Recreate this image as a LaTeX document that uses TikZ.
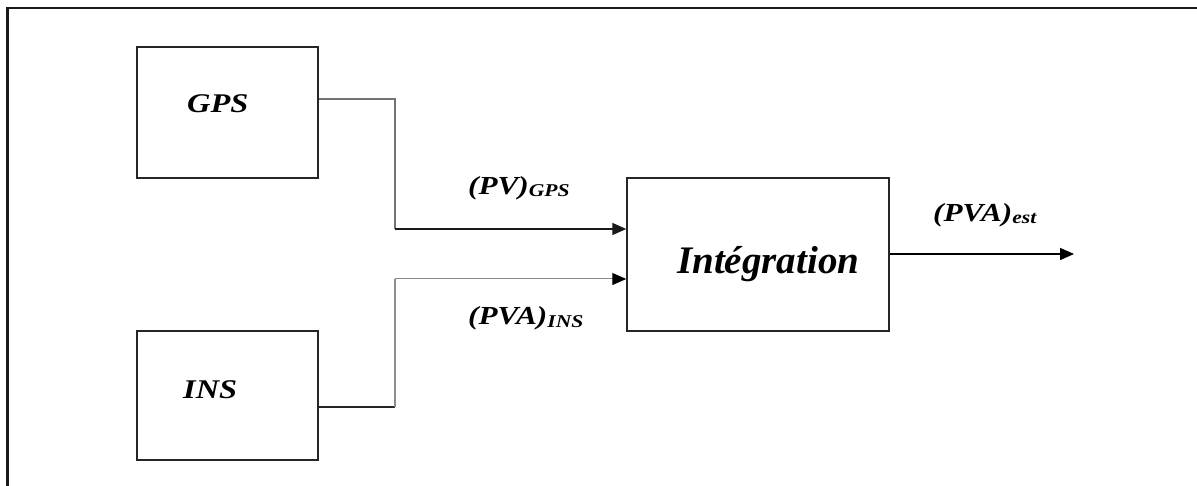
\documentclass[tikz,border=0pt]{standalone}
\usepackage{fontspec}
\setmainfont{Liberation Serif}
\newfontfamily\tbs[FakeStretch=1.2]{Liberation Serif}
\newfontfamily\tbn{Liberation Serif}
\usetikzlibrary{arrows.meta}
\tikzset{
  blk/.style={draw=black!85, line width=1.5pt, inner sep=0pt},
  txt/.style={anchor=base west, inner sep=0pt},
  arr/.style={-{Triangle[length=14pt,width=12pt]}},
}
\begin{document}
\begin{tikzpicture}[x=1pt,y=-1pt]
\useasboundingbox (0,0) rectangle (1197,486);
% frame (top and left edges only)
\draw[line width=2.2pt, black!90] (1197,8) -- (7.5,8) -- (7.5,486);
% blocks
\node[blk, minimum width=181pt, minimum height=131pt] (gps) at (227.5,112.5) {};
\node[blk, minimum width=181pt, minimum height=129pt] (ins) at (227.5,395.5) {};
\node[blk, minimum width=262pt, minimum height=153pt] (int) at (758,254.5) {};
% block texts
\node[txt] (tgps) at (187,113) {\fontsize{27}{27}\selectfont\tbs\bfseries\itshape GPS};
\node[txt] (tins) at (183,398) {\fontsize{27}{27}\selectfont\tbs\bfseries\itshape INS};
\node[txt] (tint) at (677,274) {\fontsize{39}{39}\selectfont\tbn\bfseries\itshape Intégration};
% connectors
\coordinate (g1) at (395,99);
\coordinate (g2) at (395,229);
\coordinate (i1) at (395,407);
\coordinate (i2) at (395,279);
\coordinate (ob) at (1074,254);
\draw[line width=1.3pt, black!55] (gps.east |- g1) -- (g1) -- (g2);
\draw[arr, line width=1.6pt, black!90] (g2) -- (int.west |- g2);
\draw[line width=1.6pt, black!85] (ins.east |- i1) -- (i1);
\draw[line width=1.2pt, black!45] (i1) -- (i2);
\draw[line width=1pt, black!45] (i2) -- ([xshift=-12pt]int.west |- i2);
\draw[arr, line width=1pt, black] ([xshift=-13pt]int.west |- i2) -- (int.west |- i2);
\draw[arr, line width=1.6pt, black] (int.east |- ob) -- (ob);
% labels
\node[txt] (lgps) at (468,195) {\fontsize{26}{26}\selectfont\tbs\bfseries\itshape (PV)\raisebox{-2pt}{\fontsize{18}{18}\selectfont GPS}};
\node[txt] (lins) at (468,325) {\fontsize{26}{26}\selectfont\tbs\bfseries\itshape (PVA)\raisebox{-2pt}{\fontsize{18}{18}\selectfont INS}};
\node[txt] (lest) at (933,222) {\fontsize{26}{26}\selectfont\tbs\bfseries\itshape (PVA)\raisebox{-2pt}{\fontsize{18}{18}\selectfont est}};
\end{tikzpicture}
\end{document}
